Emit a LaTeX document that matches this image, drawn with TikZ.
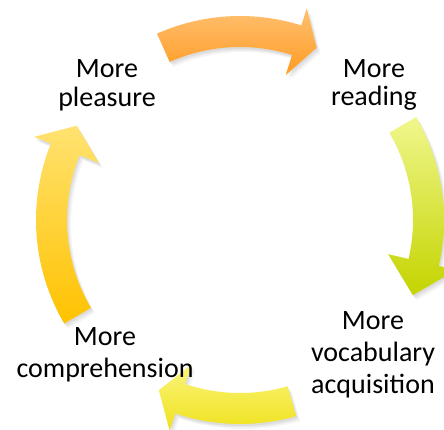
\documentclass[tikz,border=0pt]{standalone}
\usepackage{fontspec}
\setmainfont{Carlito}
\definecolor{orTop}{RGB}{255,192,112}
\definecolor{orBot}{RGB}{255,155,35}
\definecolor{grTop}{RGB}{240,247,140}
\definecolor{grBot}{RGB}{196,212,0}
\definecolor{yeTop}{RGB}{250,244,125}
\definecolor{yeBot}{RGB}{240,226,30}
\definecolor{goTop}{RGB}{255,226,112}
\definecolor{goBot}{RGB}{255,194,0}
\newcommand\ArIn{173}
\newcommand\ArOut{204}
\newcommand\ArMid{188.5}
\newcommand\HdIn{152}
\newcommand\HdOut{222}
% #1 tail angle, #2 head base angle, #3 tip angle, #4 options
\newcommand\cyclearrow[4]{%
  \path[#4] (#1:\ArOut) arc[start angle=#1, end angle=#2, radius=\ArOut]
    -- (#2:\HdOut) -- (#3:\ArMid) -- (#2:\HdIn) -- (#2:\ArIn)
    arc[start angle=#2, end angle=#1, radius=\ArIn] -- cycle;}
\newcommand\shadowedarrow[5]{%
  \cyclearrow{#1}{#2}{#3}{fill=black,opacity=0.05,shift={(1,-2)}}
  \cyclearrow{#1}{#2}{#3}{fill=black,opacity=0.05,shift={(2.5,-3.5)}}
  \cyclearrow{#1}{#2}{#3}{fill=black,opacity=0.04,shift={(4,-5)}}
  \cyclearrow{#1}{#2}{#3}{#4}}
\tikzset{
  lbl/.style={align=center, inner sep=0pt, anchor=base, text=black}
}
\begin{document}
\begin{tikzpicture}[x=1pt,y=1pt]
\useasboundingbox (0,0) rectangle (444,429);
\fill[white] (0,0) rectangle (444,429);
\begin{scope}[shift={(240,209)}]
  \shadowedarrow{114}{72.5}{66}{top color=orTop, bottom color=orBot}{}
  \shadowedarrow{30.3}{-13}{-23.5}{top color=grTop, bottom color=grBot}{}
  \shadowedarrow{-74}{-108.5}{-115.5}{top color=yeTop, bottom color=yeBot}{}
  \shadowedarrow{210.5}{158}{150}{top color=goTop, bottom color=goBot}{}
\end{scope}
\node[lbl, font=\fontsize{28}{29}\selectfont] (pleasure) at (107,322) {More\\pleasure};
\node[lbl, font=\fontsize{28}{28.5}\selectfont] (reading) at (374,323) {More\\reading};
\node[lbl, font=\fontsize{28}{32}\selectfont] (vocab) at (373,36) {More\\vocabulary\\acquisition};
\node[lbl, font=\fontsize{28}{31.5}\selectfont] (compr) at (105,52) {More\\comprehension};
\end{tikzpicture}
\end{document}
